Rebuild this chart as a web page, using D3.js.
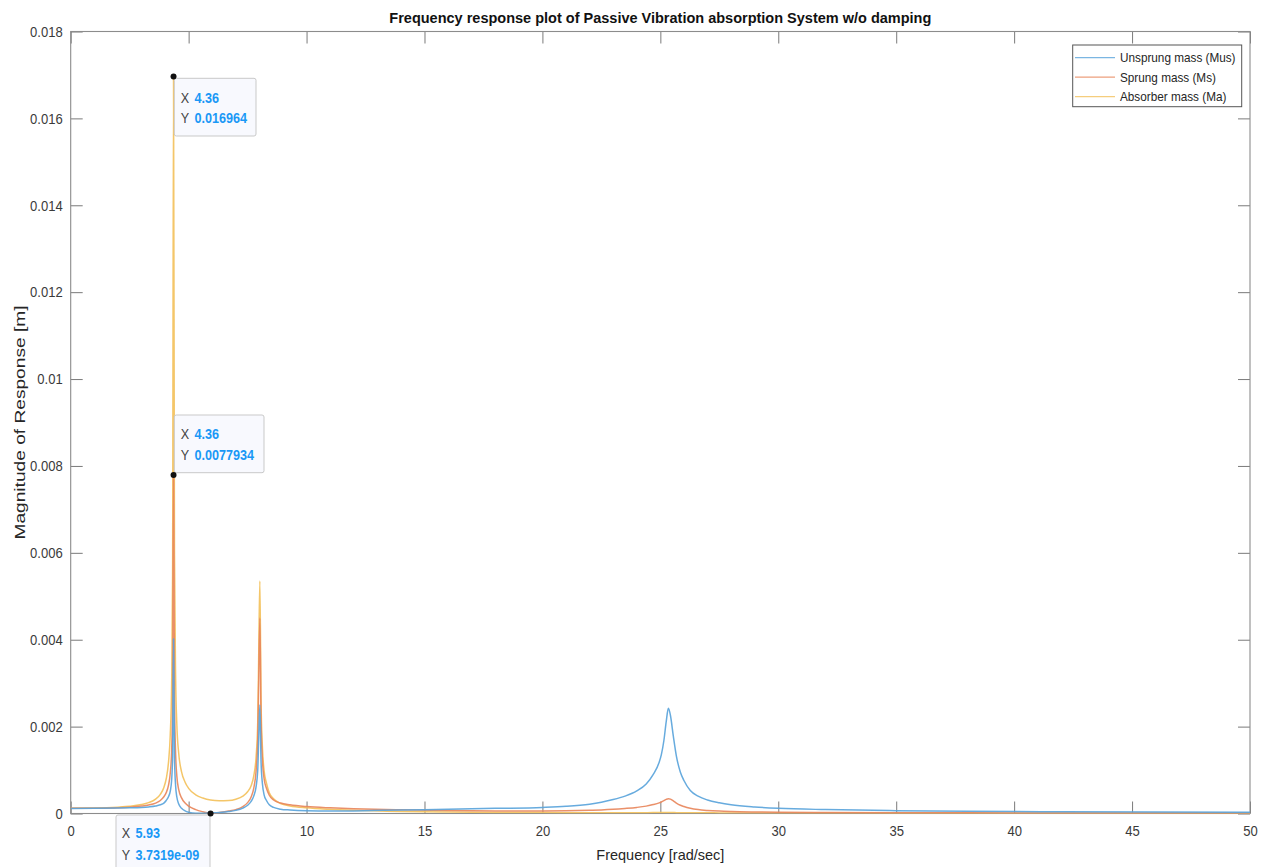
<!DOCTYPE html>
<html>
<head>
<meta charset="utf-8">
<script src="https://cdn.jsdelivr.net/npm/d3@7"></script>
<style>
  html, body { margin: 0; padding: 0; background: #ffffff; }
  svg { display: block; font-family: "Liberation Sans", Arial, sans-serif; }
</style>
</head>
<body>
<script>
// Excitation frequency samples [rad/sec]
const freq = [
  0, 1, 2, 2.5, 3, 3.3, 3.6, 3.8, 3.95, 4.05, 4.15, 4.22, 4.28, 4.32, 4.36, 4.40, 4.45, 4.5, 4.58, 4.7,
  4.85, 5.0, 5.3, 5.6, 5.93, 6.3, 6.7, 7.0, 7.3, 7.5, 7.65, 7.76, 7.86, 7.93, 7.97, 8.02, 8.07, 8.13, 8.2, 8.3,
  8.42, 8.6, 8.9, 9.3, 10, 11, 12, 14, 16, 18, 20, 21, 22, 22.5, 23, 23.5, 24, 24.4, 24.7, 24.95,
  25.04, 25.15, 25.25, 25.34, 25.43, 25.55, 25.68, 25.85, 26.0, 26.27, 26.6, 27, 27.5, 28, 29, 30, 32, 35, 38, 42,
  46, 50
];

// Response magnitude of the unsprung mass (Mus) [m]
const unsprung = [
  0.000116, 0.000118, 0.000124, 0.000130, 0.000140, 0.000152, 0.000172, 0.000200, 0.000240, 0.000300, 0.000390, 0.000510, 0.000770, 0.001320, 0.004020, 0.001300, 0.000620, 0.000380, 0.000220, 0.000120,
  0.000060, 0.000030, 0.000008, 0.000006, 0.000014, 0.000025, 0.000045, 0.000072, 0.000125, 0.000190, 0.000280, 0.000400, 0.000620, 0.001000, 0.001700, 0.002500, 0.001200, 0.000680, 0.000430, 0.000300,
  0.000200, 0.000140, 0.000100, 0.000080, 0.000062, 0.000055, 0.000060, 0.000080, 0.000098, 0.000118, 0.000140, 0.000165, 0.000215, 0.000260, 0.000320, 0.000400, 0.000520, 0.000680, 0.000900, 0.001180,
  0.001350, 0.001680, 0.002120, 0.002420, 0.002250, 0.001780, 0.001320, 0.000950, 0.000760, 0.000530, 0.000400, 0.000310, 0.000245, 0.000200, 0.000150, 0.000120, 0.000090, 0.000065, 0.000050, 0.000040,
  0.000033, 0.000028
];

// Response magnitude of the sprung mass (Ms) [m]
const sprung = [
  0.000118, 0.000121, 0.000132, 0.000145, 0.000170, 0.000195, 0.000240, 0.000300, 0.000385, 0.000480, 0.000660, 0.000920, 0.001450, 0.002550, 0.0077934, 0.002700, 0.001350, 0.000860, 0.000550, 0.000360,
  0.000240, 0.000170, 0.000090, 0.000040, 3.7319e-09, 0.000022, 0.000055, 0.000090, 0.000160, 0.000250, 0.000380, 0.000580, 0.000980, 0.001700, 0.003000, 0.004500, 0.002150, 0.001220, 0.000800, 0.000580,
  0.000420, 0.000310, 0.000240, 0.000200, 0.000160, 0.000130, 0.000110, 0.000085, 0.000068, 0.000060, 0.000060, 0.000065, 0.000075, 0.000082, 0.000095, 0.000115, 0.000140, 0.000170, 0.000205, 0.000245,
  0.000265, 0.000295, 0.000325, 0.000340, 0.000330, 0.000290, 0.000240, 0.000190, 0.000160, 0.000120, 0.000090, 0.000070, 0.000055, 0.000046, 0.000036, 0.000030, 0.000024, 0.000018, 0.000015, 0.000012,
  0.000010, 0.000009
];

// Response magnitude of the absorber mass (Ma) [m]
const absorber = [
  0.000120, 0.000125, 0.000145, 0.000165, 0.000205, 0.000250, 0.000330, 0.000440, 0.000600, 0.000800, 0.001200, 0.001800, 0.003000, 0.005500, 0.016964, 0.006000, 0.003100, 0.002050, 0.001380, 0.000960,
  0.000720, 0.000580, 0.000430, 0.000355, 0.000310, 0.000295, 0.000300, 0.000330, 0.000400, 0.000500, 0.000640, 0.000860, 0.001300, 0.002100, 0.003600, 0.005350, 0.002600, 0.001500, 0.000980, 0.000700,
  0.000480, 0.000340, 0.000230, 0.000175, 0.000130, 0.000095, 0.000072, 0.000045, 0.000032, 0.000025, 0.000021, 0.000020, 0.000019, 0.000019, 0.000019, 0.000019, 0.000020, 0.000020, 0.000021, 0.000021,
  0.000021, 0.000022, 0.000022, 0.000022, 0.000022, 0.000021, 0.000020, 0.000019, 0.000018, 0.000017, 0.000016, 0.000015, 0.000014, 0.000013, 0.000012, 0.000011, 0.000010, 0.000008, 0.000007, 0.000006,
  0.000005, 0.000005
];

const seriesNames = ["Unsprung mass (Mus)", "Sprung mass (Ms)", "Absorber mass (Ma)"];
const seriesColors = ["#5aa4db", "#e8875c", "#f3c15c"];

const xTicks = [0, 5, 10, 15, 20, 25, 30, 35, 40, 45, 50];
const yTicks = [0, 0.002, 0.004, 0.006, 0.008, 0.01, 0.012, 0.014, 0.016, 0.018];

// Data tips: which series and which frequency sample they mark
const tips = [
  { series: 2, freq: 4.36 },
  { series: 1, freq: 4.36 },
  { series: 1, freq: 5.93 }
];

const W = 1267, H = 867;
const plot = { left: 70.7, right: 1250, top: 31.5, bottom: 813.5 };
const SQ = 0.87; // horizontal condensing of the lettering

const svg = d3.select("body").append("svg").attr("width", W).attr("height", H);
svg.append("rect").attr("width", W).attr("height", H).attr("fill", "#ffffff");

const x = d3.scaleLinear().domain([0, 50]).range([plot.left, plot.right]);
const y = d3.scaleLinear().domain([0, 0.018]).range([plot.bottom, plot.top]);

svg.append("defs").append("clipPath").attr("id", "plotclip")
  .append("rect")
  .attr("x", plot.left).attr("y", plot.top)
  .attr("width", plot.right - plot.left).attr("height", plot.bottom - plot.top);

const fmtY = d => d === 0 ? "0" : d3.format("~g")(d);
const tickColor = "#7a7a7a";
const labelColor = "#3a3a3a";

function styleAxis(g, showLabels) {
  g.select(".domain").remove();
  g.selectAll(".tick line").attr("stroke", tickColor).attr("stroke-width", 1);
  g.selectAll(".tick text")
    .attr("fill", labelColor)
    .attr("font-size", 15)
    .attr("class", "sq")
    .style("display", showLabels ? null : "none");
}

// Bottom and left axes carry the labels; top and right mirror the ticks
svg.append("g").attr("transform", `translate(0,${plot.bottom})`)
  .call(d3.axisBottom(x).tickValues(xTicks).tickFormat(d3.format("d")).tickSizeInner(-12).tickSizeOuter(0).tickPadding(12))
  .call(g => styleAxis(g, true));
svg.append("g").attr("transform", `translate(0,${plot.top})`)
  .call(d3.axisTop(x).tickValues(xTicks).tickSizeInner(-12).tickSizeOuter(0))
  .call(g => styleAxis(g, false));
svg.append("g").attr("transform", `translate(${plot.left},0)`)
  .call(d3.axisLeft(y).tickValues(yTicks).tickFormat(fmtY).tickSizeInner(-12).tickSizeOuter(0).tickPadding(8))
  .call(g => styleAxis(g, true));
svg.append("g").attr("transform", `translate(${plot.right},0)`)
  .call(d3.axisRight(y).tickValues(yTicks).tickSizeInner(-12).tickSizeOuter(0))
  .call(g => styleAxis(g, false));

// Axes box
svg.append("rect")
  .attr("x", plot.left).attr("y", plot.top)
  .attr("width", plot.right - plot.left).attr("height", plot.bottom - plot.top)
  .attr("fill", "none").attr("stroke", "#8c8c8c").attr("stroke-width", 1.1);

// Response curves: absorber underneath, unsprung mass on top
const allSeries = [unsprung, sprung, absorber];
const line = d3.line().curve(d3.curveMonotoneX).x(d => x(d[0])).y(d => y(d[1]));
const curves = svg.append("g").attr("clip-path", "url(#plotclip)");
[2, 1, 0].forEach(i => {
  const vals = allSeries[i];
  curves.append("path")
    .datum(freq.map((f, k) => [f, vals[k]]))
    .attr("d", line)
    .attr("fill", "none")
    .attr("stroke", seriesColors[i])
    .attr("stroke-width", 1.5)
    .attr("stroke-opacity", 0.92)
    .attr("stroke-linejoin", "round");
});

// Title and axis labels
svg.append("text")
  .attr("x", (plot.left + plot.right) / 2).attr("y", 23)
  .attr("text-anchor", "middle")
  .attr("font-size", 14).attr("font-weight", "bold").attr("fill", "#111")
  .attr("textLength", 542).attr("lengthAdjust", "spacingAndGlyphs")
  .text("Frequency response plot of Passive Vibration absorption System w/o damping");

svg.append("text")
  .attr("x", (plot.left + plot.right) / 2).attr("y", 860)
  .attr("text-anchor", "middle")
  .attr("font-size", 15).attr("fill", "#262626")
  .attr("textLength", 128).attr("lengthAdjust", "spacingAndGlyphs")
  .text("Frequency [rad/sec]");

svg.append("text")
  .attr("transform", `translate(25,${(plot.top + plot.bottom) / 2}) rotate(-90)`)
  .attr("text-anchor", "middle")
  .attr("font-size", 15).attr("fill", "#262626")
  .attr("textLength", 234).attr("lengthAdjust", "spacingAndGlyphs")
  .text("Magnitude of Response [m]");

// Legend
const leg = svg.append("g");
leg.append("rect")
  .attr("x", 1072.7).attr("y", 45).attr("width", 169).attr("height", 61.7)
  .attr("fill", "#ffffff").attr("stroke", "#555").attr("stroke-width", 1);
seriesNames.forEach((name, i) => {
  const ly = 57.7 + i * 19.5;
  leg.append("line")
    .attr("x1", 1075).attr("x2", 1115).attr("y1", ly).attr("y2", ly)
    .attr("stroke", seriesColors[i]).attr("stroke-width", 1.2).attr("stroke-opacity", 0.8);
  leg.append("text")
    .attr("class", "sq")
    .attr("x", 1120).attr("y", ly).attr("dy", "0.35em")
    .attr("font-size", 13.5).attr("fill", "#262626")
    .text(name);
});

// Data tips
const fmtTipY = v => d3.format(".5~g")(v).replace(/e-(\d)$/, "e-0$1");
const tipLayout = [
  { box: [174.3, 78.3, 81.7, 57.7], text: [180.7, 102.7, 123.3] },
  { box: [174.3, 415, 89.7, 57.7], text: [180.7, 439.3, 460] },
  { box: [116, 815, 94, 60], text: [121.7, 838, 859.5] }
];
const tipG = svg.append("g");
tips.forEach((t, i) => {
  const k = freq.indexOf(t.freq);
  const v = allSeries[t.series][k];
  const L = tipLayout[i];
  tipG.append("rect")
    .attr("x", L.box[0]).attr("y", L.box[1]).attr("width", L.box[2]).attr("height", L.box[3])
    .attr("rx", 2).attr("fill", "#f8f9fe").attr("stroke", "#c9c9c9").attr("stroke-width", 1);
  [["X", t.freq.toFixed(2)], ["Y", fmtTipY(v)]].forEach((row, r) => {
    tipG.append("text").attr("class", "sq")
      .attr("x", L.text[0]).attr("y", L.text[1 + r])
      .attr("font-size", 14.5).attr("fill", "#444")
      .text(row[0]);
    tipG.append("text").attr("class", "sq")
      .attr("x", L.text[0] + 13.8).attr("y", L.text[1 + r])
      .attr("font-size", 14.5).attr("font-weight", "bold").attr("fill", "#1a98f6")
      .text(row[1]);
  });
  tipG.append("circle")
    .attr("cx", x(t.freq)).attr("cy", y(v)).attr("r", 3)
    .attr("fill", "#111");
});

// Condense the lettering horizontally
svg.selectAll("text.sq").each(function () {
  const len = this.getComputedTextLength();
  if (len > 0) {
    d3.select(this).attr("textLength", len * SQ).attr("lengthAdjust", "spacingAndGlyphs");
  }
});
</script>
</body>
</html>
